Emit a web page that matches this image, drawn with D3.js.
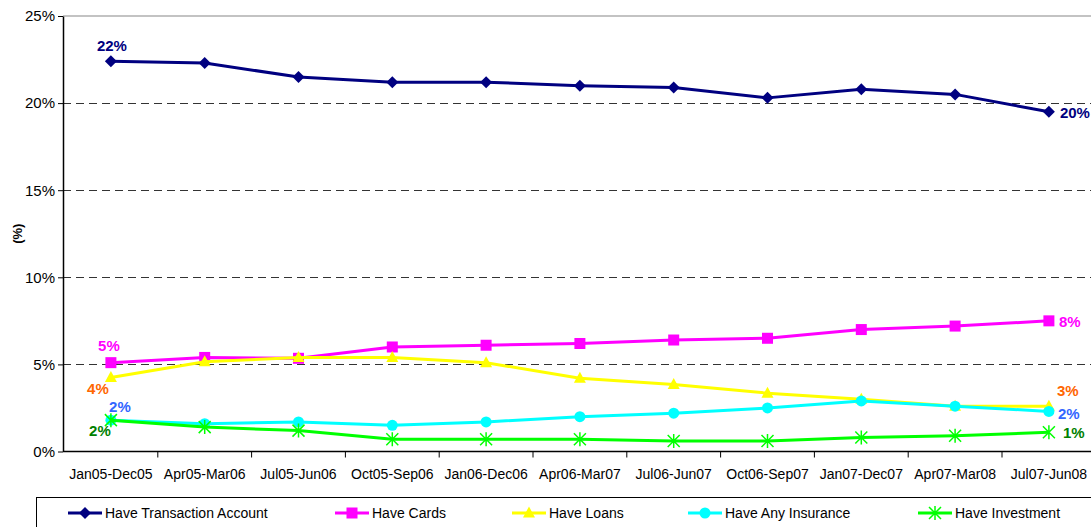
<!DOCTYPE html>
<html>
<head>
<meta charset="utf-8">
<script src="https://cdn.jsdelivr.net/npm/d3@7"></script>
<style>
  body { margin: 0; background: #fff; }
  svg { display: block; font-family: Arial, "Liberation Sans", sans-serif; }
</style>
</head>
<body>
<script>
const periods = ['Jan05-Dec05', 'Apr05-Mar06', 'Jul05-Jun06', 'Oct05-Sep06', 'Jan06-Dec06',
  'Apr06-Mar07', 'Jul06-Jun07', 'Oct06-Sep07', 'Jan07-Dec07', 'Apr07-Mar08', 'Jul07-Jun08'];

const transaction = [22.4, 22.3, 21.5, 21.2, 21.2, 21.0, 20.9, 20.3, 20.8, 20.5, 19.5];
const cards = [5.1, 5.4, 5.35, 6.0, 6.1, 6.2, 6.4, 6.5, 7.0, 7.2, 7.5];
const loans = [4.25, 5.15, 5.4, 5.4, 5.1, 4.2, 3.85, 3.35, 3.0, 2.6, 2.6];
const insurance = [1.8, 1.6, 1.7, 1.5, 1.7, 2.0, 2.2, 2.5, 2.9, 2.6, 2.3];
const investment = [1.8, 1.4, 1.2, 0.7, 0.7, 0.7, 0.6, 0.6, 0.8, 0.9, 1.1];

const seriesNames = ['Have Transaction Account', 'Have Cards', 'Have Loans', 'Have Any Insurance', 'Have Investment'];
const yTicks = [0, 5, 10, 15, 20, 25];

const width = 1091;
const height = 527;
const marginLeft = 63;
const marginTop = 16;
const plotBottom = 451.5;

const series = [
  { name: seriesNames[0], values: transaction, color: '#000080', marker: 'diamond' },
  { name: seriesNames[1], values: cards, color: '#FF00FF', marker: 'square' },
  { name: seriesNames[2], values: loans, color: '#FFFF00', marker: 'triangle' },
  { name: seriesNames[3], values: insurance, color: '#00FFFF', marker: 'circle' },
  { name: seriesNames[4], values: investment, color: '#00FF00', marker: 'star' },
];

const svg = d3.select('body')
  .append('svg')
  .attr('width', width)
  .attr('height', height);

const x = d3.scaleBand()
  .domain(periods)
  .range([marginLeft + 1, marginLeft + 1 + 11 * 93.8])
  .paddingInner(0)
  .paddingOuter(0);

const y = d3.scaleLinear()
  .domain([0, 25])
  .range([plotBottom, marginTop]);

const cx = (d, i) => x(periods[i]) + x.bandwidth() / 2;

// Top border of plot area
svg.append('line')
  .attr('x1', marginLeft).attr('x2', width)
  .attr('y1', y(25)).attr('y2', y(25))
  .attr('stroke', '#888').attr('stroke-width', 1.2);

// Dashed grid lines
svg.append('g')
  .selectAll('line')
  .data(yTicks.filter((t) => t > 0 && t < 25))
  .join('line')
  .attr('x1', marginLeft).attr('x2', width)
  .attr('y1', (d) => Math.round(y(d)) + 0.5).attr('y2', (d) => Math.round(y(d)) + 0.5)
  .attr('stroke', '#333')
  .attr('stroke-width', 1)
  .attr('stroke-dasharray', '8,5');

// Y axis
const yAxis = svg.append('g')
  .attr('transform', `translate(${marginLeft},0)`)
  .call(d3.axisLeft(y).tickValues(yTicks).tickFormat((d) => d + '%').tickSize(5).tickSizeOuter(0));
yAxis.select('.domain').attr('stroke', '#000').attr('stroke-width', 1.5);
yAxis.selectAll('.tick line').attr('stroke', '#000');
yAxis.selectAll('.tick text')
  .attr('x', -8)
  .style('font-size', '15px')
  .attr('fill', '#000');

// X axis
const xAxis = svg.append('g')
  .attr('transform', `translate(0,${plotBottom})`)
  .call(d3.axisBottom(x).tickSize(0).tickSizeOuter(0));
xAxis.select('.domain')
  .attr('d', `M${marginLeft},0H${width}`)
  .attr('stroke', '#000').attr('stroke-width', 1.5);
xAxis.selectAll('.tick text')
  .attr('y', 18)
  .attr('dy', '0.71em')
  .style('font-size', '14px')
  .attr('fill', '#000');
// tick marks at category boundaries
xAxis.append('g')
  .selectAll('line')
  .data(periods.slice(1))
  .join('line')
  .attr('x1', (d) => x(d)).attr('x2', (d) => x(d))
  .attr('y1', 0).attr('y2', 6)
  .attr('stroke', '#000');

// Y axis title
svg.append('text')
  .attr('transform', `translate(22,${(marginTop + plotBottom) / 2}) rotate(-90)`)
  .attr('text-anchor', 'middle')
  .style('font-size', '13px')
  .style('font-weight', 'bold')
  .text('(%)');

// Marker drawing
const drawMarker = (g, type, color) => {
  if (type === 'diamond') {
    g.append('path').attr('d', 'M0,-6L6,0L0,6L-6,0Z').attr('fill', color);
  } else if (type === 'square') {
    g.append('rect').attr('x', -5.5).attr('y', -5.5).attr('width', 11).attr('height', 11).attr('fill', color);
  } else if (type === 'triangle') {
    g.append('path').attr('d', 'M0,-6.5L6,4.5L-6,4.5Z').attr('fill', color);
  } else if (type === 'circle') {
    g.append('circle').attr('r', 5.5).attr('fill', color);
  } else if (type === 'star') {
    g.append('path')
      .attr('d', 'M-6,-6L6,6M-6,6L6,-6M0,-7L0,7')
      .attr('stroke', color)
      .attr('stroke-width', 1.5)
      .attr('fill', 'none');
  }
};

const line = d3.line()
  .x((d, i) => cx(d, i))
  .y((d) => y(d));

for (const s of series) {
  svg.append('path')
    .attr('fill', 'none')
    .attr('stroke', s.color)
    .attr('stroke-width', 3)
    .attr('stroke-linejoin', 'round')
    .attr('d', line(s.values));

  svg.append('g')
    .selectAll('g')
    .data(s.values)
    .join('g')
    .attr('transform', (d, i) => `translate(${cx(d, i)},${y(d)})`)
    .each(function () { drawMarker(d3.select(this), s.marker, s.color); });
}

// Data labels at the first and last point
const last = periods.length - 1;
const labels = [
  { s: transaction, i: 0, color: '#000080', dx: 1, dy: -10, anchor: 'middle' },
  { s: transaction, i: last, color: '#000080', dx: 11, dy: 6, anchor: 'start' },
  { s: cards, i: 0, color: '#FF00FF', dx: -2, dy: -12, anchor: 'middle' },
  { s: cards, i: last, color: '#FF00FF', dx: 10, dy: 6, anchor: 'start' },
  { s: loans, i: 0, color: '#FF6600', dx: -13, dy: 17, anchor: 'middle' },
  { s: loans, i: last, color: '#FF6600', dx: 8, dy: -10, anchor: 'start' },
  { s: insurance, i: 0, color: '#3366FF', dx: 9, dy: -8, anchor: 'middle' },
  { s: insurance, i: last, color: '#3366FF', dx: 9, dy: 8, anchor: 'start' },
  { s: investment, i: 0, color: '#008000', dx: -11, dy: 16, anchor: 'middle' },
  { s: investment, i: last, color: '#008000', dx: 14, dy: 6, anchor: 'start' },
];

svg.append('g')
  .selectAll('text')
  .data(labels)
  .join('text')
  .attr('x', (d) => cx(null, d.i) + d.dx)
  .attr('y', (d) => y(d.s[d.i]) + d.dy)
  .attr('text-anchor', (d) => d.anchor)
  .style('font-size', '15px')
  .style('font-weight', 'bold')
  .attr('fill', (d) => d.color)
  .text((d) => Math.round(d.s[d.i]) + '%');

// Legend
const legend = svg.append('g');
legend.append('rect')
  .attr('x', 36.5).attr('y', 497.5)
  .attr('width', width).attr('height', 60)
  .attr('fill', 'none')
  .attr('stroke', '#000')
  .attr('stroke-width', 1);

const legendX = [68, 335, 512, 688, 918];
series.forEach((s, k) => {
  const g = legend.append('g').attr('transform', `translate(${legendX[k]},513)`);
  g.append('line')
    .attr('x1', 0).attr('x2', 34)
    .attr('y1', 0).attr('y2', 0)
    .attr('stroke', s.color)
    .attr('stroke-width', 3);
  drawMarker(g.append('g').attr('transform', 'translate(17,0)'), s.marker, s.color);
  g.append('text')
    .attr('x', 37)
    .attr('y', 5)
    .style('font-size', '14px')
    .attr('fill', '#000')
    .text(s.name);
});
</script>
</body>
</html>
